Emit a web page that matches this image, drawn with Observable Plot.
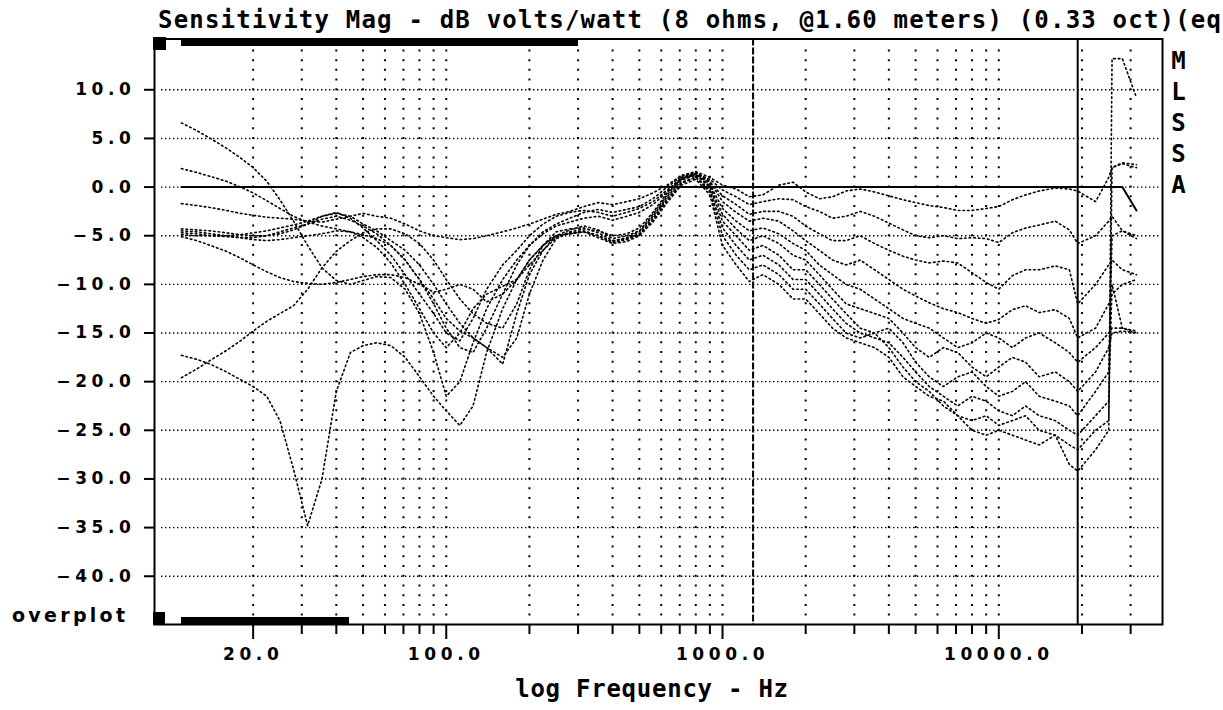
<!DOCTYPE html>
<html>
<head>
<meta charset="utf-8">
<script src="https://cdn.jsdelivr.net/npm/d3@7"></script>
<script src="https://cdn.jsdelivr.net/npm/@observablehq/plot@0.6"></script>
<style>
  html, body { margin: 0; padding: 0; background: #fff; overflow: hidden; }
  #wrap { position: relative; width: 1223px; height: 710px; overflow: hidden; background: #fff; }
  .mono { position: absolute; font-family: "DejaVu Sans Mono", monospace; font-weight: bold; color: #000; white-space: pre; line-height: normal; }
  #title { left: 158px; top: 6px; font-size: 24px; letter-spacing: 1.2px; }
  #xlabel { left: 652px; top: 675px; font-size: 24px; letter-spacing: 0.75px; transform: translateX(-50%); }
  #mlssa { left: 1171px; top: 46px; width: 15px; text-align: center; font-size: 24px; line-height: 31px; }
  #overplot { position: absolute; left: 12px; top: 604px; font-family: "DejaVu Sans", sans-serif; font-weight: bold; font-size: 19px; letter-spacing: 3.3px; color: #000; }
  .blk { position: absolute; background: #000; }
  #chart svg text { letter-spacing: 4.6px; }
</style>
</head>
<body>
<div id="wrap">
  <div id="chart"></div>
  <div id="title" class="mono">Sensitivity Mag - dB volts/watt (8 ohms, @1.60 meters) (0.33 oct)(eq</div>
  <div id="xlabel" class="mono">log Frequency - Hz</div>
  <div id="mlssa" class="mono">M<br>L<br>S<br>S<br>A</div>
  <div id="overplot">overplot</div>
  <div class="blk" style="left:153px;top:37px;width:13px;height:13px;"></div>
  <div class="blk" style="left:181px;top:37.5px;width:397px;height:8px;"></div>
  <div class="blk" style="left:153px;top:612px;width:12px;height:13px;"></div>
  <div class="blk" style="left:181px;top:617px;width:168px;height:8px;"></div>
</div>
<script>
// Frequencies (Hz), shared by all curves
const freq = [
  11, 12.5, 14, 16, 18, 20, 22.4, 25, 28, 31.5, 35.5, 40, 45, 50, 56, 63, 71, 80, 90, 100, 112, 125, 140, 160, 180, 200, 224,
  250, 280, 315, 355, 400, 450, 500, 560, 630, 710, 800, 900, 1000, 1120, 1250, 1400, 1600, 1800,
  2000, 2240, 2500, 2800, 3150, 3550, 4000, 4500, 5000, 5600, 6300, 7100, 8000, 9000, 10000, 11200, 12500, 14000, 16000, 18000,
  19300, 22400, 25000, 25700, 28000, 31500
];

// Off-axis curves (dB)
const curve1 = [
  -1.7,-1.9,-2.1,-2.4,-2.7,-2.9,-3.1,-3.2,-3.3,-3.5,-3.6,-3.3,-3.0,-2.7,-3.0,-3.2,-3.8,-4.5,-5.0,-5.2,-5.4,-5.3,-5.0,-4.6,-4.2,-3.8,-3.3,
  -2.8,-2.5,-2.0,-1.6,-1.8,-1.5,-1.2,-0.6,0.2,1.2,1.6,1.0,0.2,-0.2,-1.0,-0.8,0.2,0.5,
  -0.5,-1.2,-1.0,-0.4,-0.2,-0.5,-0.9,-1.3,-1.6,-1.9,-2.1,-2.4,-2.4,-2.2,-2.0,-1.3,-0.8,-0.4,-0.1,-0.2,
  -0.4,-1.5,1.0,2.0,2.4,2.0
];
const curve2 = [
  -4.3,-4.4,-4.5,-4.7,-4.9,-5.0,-5.0,-4.8,-4.4,-3.8,-3.0,-2.6,-3.2,-4.2,-5.5,-7.0,-9.0,-11.0,-13.0,-15.0,-15.8,-13.5,-10.5,-8.0,-6.5,-5.0,-3.8,
  -3.0,-2.6,-2.4,-2.6,-3.0,-2.6,-2.2,-1.5,-0.3,0.9,1.4,0.8,-0.3,-1.0,-1.8,-1.5,-1.2,-1.3,
  -2.0,-2.5,-3.2,-3.0,-2.5,-3.0,-3.7,-4.4,-5.0,-5.2,-5.0,-5.3,-5.2,-5.3,-5.7,-4.7,-4.2,-3.9,-3.5,-4.4,
  -5.8,-5.0,-3.5,-3.0,-4.5,-5.3
];
const curve3 = [
  6.6,5.8,5.0,4.0,3.0,2.0,0.6,-1.3,-3.5,-6.0,-8.3,-9.6,-10.0,-9.6,-9.2,-9.3,-10.5,-13.0,-17.0,-21.5,-20.0,-16.0,-12.5,-9.5,-7.5,-6.0,-4.8,
  -4.0,-3.6,-3.2,-3.0,-3.4,-3.0,-2.6,-1.8,-0.5,0.8,1.3,0.5,-0.9,-1.8,-2.8,-2.5,-2.5,-3.0,
  -4.0,-4.8,-5.5,-5.5,-5.0,-5.8,-6.5,-7.1,-7.5,-7.8,-7.6,-7.8,-8.8,-9.8,-10.5,-9.1,-8.5,-8.5,-8.1,-8.5,
  -12.0,-10.0,-8.0,-7.5,-8.5,-9.0
];
const curve4 = [
  1.9,1.5,1.1,0.6,0.0,-0.6,-1.4,-2.2,-3.0,-3.6,-4.0,-4.3,-4.6,-4.9,-5.3,-6.0,-7.5,-9.5,-12.0,-14.5,-16.5,-17.0,-14.5,-11.0,-8.0,-6.0,-4.6,
  -3.8,-3.2,-2.6,-2.3,-2.6,-2.3,-2.0,-1.2,0.0,1.1,1.5,0.6,-1.5,-2.6,-3.5,-3.2,-3.5,-4.5,
  -5.5,-6.5,-7.5,-8.0,-7.5,-8.5,-9.5,-10.5,-11.2,-11.9,-12.5,-12.9,-13.5,-14.0,-13.6,-12.6,-12.2,-12.9,-12.6,-13.5,
  -15.5,-14.5,-12.0,-11.0,-10.0,-9.5
];
const curve5 = [
  -4.5,-4.6,-4.8,-5.0,-5.2,-5.4,-5.5,-5.4,-5.2,-5.0,-4.8,-4.5,-4.6,-5.2,-6.2,-7.8,-10.0,-12.5,-15.0,-16.5,-15.0,-12.5,-11.0,-10.2,-9.5,-8.0,-6.5,
  -5.2,-4.6,-4.3,-4.5,-5.0,-4.8,-4.2,-2.6,-0.6,1.0,1.4,0.3,-2.2,-3.5,-4.5,-4.2,-4.8,-5.8,
  -6.5,-8.0,-9.0,-10.0,-10.5,-11.5,-12.5,-13.5,-14.0,-14.5,-15.5,-16.5,-16.0,-15.0,-15.5,-16.5,-15.5,-15.0,-16.0,-17.0,
  -18.0,-16.5,-15.0,-14.5,-14.5,-14.8
];
const curve6 = [
  -4.7,-4.8,-5.0,-5.1,-5.2,-5.2,-5.0,-4.6,-4.2,-3.8,-3.3,-3.0,-3.4,-4.0,-4.8,-6.0,-7.5,-9.5,-11.5,-13.5,-14.8,-15.5,-16.5,-18.2,-13.0,-9.0,-6.5,
  -5.0,-4.4,-4.0,-4.4,-5.3,-5.0,-4.5,-2.8,-0.8,0.9,1.3,0.1,-2.8,-4.3,-5.5,-5.0,-5.8,-7.0,
  -7.5,-9.0,-10.5,-12.0,-12.5,-13.0,-13.5,-15.0,-16.5,-17.5,-16.5,-17.0,-18.5,-19.5,-18.5,-17.5,-18.0,-19.5,-19.0,-20.0,
  -21.0,-19.0,-16.5,-15.0,-14.8,-15.0
];
const curve7 = [
  -5.1,-5.5,-6.0,-6.6,-7.3,-8.0,-8.7,-9.3,-9.7,-9.9,-10.0,-9.8,-9.5,-9.2,-9.0,-9.0,-9.3,-10.0,-10.8,-10.5,-10.0,-10.5,-11.8,-11.0,-9.5,-7.5,-6.0,
  -5.0,-4.8,-4.6,-5.0,-5.6,-5.2,-4.6,-3.0,-1.0,0.7,1.2,0.0,-3.5,-5.0,-6.5,-6.0,-7.0,-8.5,
  -8.5,-10.0,-11.5,-13.0,-14.5,-15.0,-14.5,-16.0,-18.0,-19.5,-20.5,-19.5,-19.0,-20.5,-21.5,-21.0,-20.0,-21.5,-22.0,-22.5,
  -23.5,-21.0,-19.0,-5.0,-4.5,-5.0
];
const curve8 = [
  -19.6,-18.7,-17.8,-16.8,-15.8,-14.8,-13.8,-13.0,-12.2,-10.5,-8.3,-6.6,-5.5,-4.7,-4.3,-4.3,-4.8,-5.8,-7.5,-9.5,-11.5,-13.0,-14.0,-14.5,-12.0,-8.5,-6.0,
  -4.6,-4.3,-4.2,-4.7,-5.5,-5.3,-4.8,-3.2,-1.2,0.5,1.0,-0.3,-4.2,-6.0,-7.5,-7.0,-8.0,-9.5,
  -9.5,-11.0,-12.5,-14.0,-15.0,-15.5,-16.0,-17.5,-19.0,-20.5,-21.5,-22.5,-21.5,-22.0,-23.0,-23.5,-22.5,-23.5,-24.0,-25.0,
  -25.5,-23.5,-22.0,-10.0,-14.5,-15.0
];
const curve9 = [
  -4.9,-5.0,-5.0,-5.0,-4.9,-4.7,-4.5,-4.2,-3.9,-3.5,-3.0,-2.7,-3.0,-3.8,-4.5,-5.5,-6.5,-8.0,-10.0,-12.0,-14.0,-15.5,-16.5,-17.5,-15.5,-11.0,-7.5,
  -5.3,-4.7,-4.5,-5.0,-5.7,-5.4,-4.9,-3.4,-1.4,0.4,1.0,-0.5,-5.0,-7.0,-8.5,-8.0,-9.0,-10.5,
  -10.5,-12.0,-13.5,-15.0,-15.5,-15.0,-16.5,-18.5,-20.0,-21.0,-22.5,-23.5,-24.0,-23.5,-24.5,-24.0,-23.5,-25.0,-25.5,-26.5,
  -27.0,-25.0,-24.0,2.0,2.5,2.3
];
const curve10 = [
  -17.3,-17.7,-18.2,-19.0,-19.8,-20.5,-21.5,-24.0,-29.0,-34.8,-30.0,-21.0,-17.0,-16.3,-16.0,-16.3,-17.5,-19.5,-21.5,-23.0,-24.5,-22.5,-17.0,-12.5,-9.5,-7.5,-6.0,
  -5.0,-4.8,-4.6,-5.2,-5.8,-5.6,-5.0,-3.6,-1.6,0.2,0.8,-0.8,-6.0,-8.0,-9.7,-9.0,-10.0,-11.5,
  -11.5,-13.0,-14.5,-15.5,-16.0,-16.5,-17.5,-19.5,-20.5,-21.5,-22.0,-23.5,-25.0,-25.5,-25.0,-25.5,-26.0,-26.5,-25.5,-28.5,
  -29.2,-27.0,-25.0,13.2,13.2,9.2
];

// Reference (on-axis normalised) curve
const refFreq = [11, 28000, 31500];
const refDb = [0, 0, -2.4];

// Cursor markers (Hz)
const cursorDashed = [1290];
const cursorSolid = [19300];

// Ticks
const dbTicks = [10, 5, 0, -5, -10, -15, -20, -25, -30, -35, -40];
const majorTicks = [20, 100, 1000, 10000];
const minorTicks = [30, 40, 50, 60, 70, 80, 90, 200, 300, 400, 500, 600, 700, 800, 900,
                    2000, 3000, 4000, 5000, 6000, 7000, 8000, 9000, 20000, 30000];
const gridFreqs = [20, 30, 40, 50, 60, 70, 80, 90, 100, 200, 300, 400, 500, 600, 700, 800, 900,
                   1000, 2000, 3000, 4000, 5000, 6000, 7000, 8000, 9000, 10000, 20000, 30000];

const series = [curve1, curve2, curve3, curve4, curve5, curve6, curve7, curve8, curve9, curve10];
const rows = [];
series.forEach((vals, k) => vals.forEach((v, i) => rows.push({f: freq[i], db: v, s: "c" + (k + 1)})));
const refRows = refFreq.map((f, i) => ({f, db: refDb[i]}));

const fmt = d => (d < 0 ? "\u2212" : "") + Math.abs(d).toFixed(1);

const chart = Plot.plot({
  width: 1223,
  height: 710,
  marginLeft: 154,
  marginRight: 61,
  marginTop: 38.5,
  marginBottom: 86,
  x: {type: "log", domain: [8.79, 39130]},
  y: {domain: [-44.96, 15.22]},
  style: {fontFamily: "'DejaVu Sans', sans-serif", fontWeight: "bold", fontSize: "17px", color: "#000", background: "#fff", overflow: "visible"},
  marks: [
    Plot.ruleY(dbTicks, {stroke: "#000", strokeWidth: 1.4, strokeDasharray: "1.4 2.6", insetLeft: 7, insetRight: 3}),
    Plot.ruleX(gridFreqs, {stroke: "#000", strokeWidth: 2, strokeDasharray: "2 7.728", insetTop: 10.9, insetBottom: 8.4}),
    Plot.ruleX(cursorDashed, {stroke: "#000", strokeWidth: 2, strokeDasharray: "7 2"}),
    Plot.ruleX(cursorSolid, {stroke: "#000", strokeWidth: 2}),
    Plot.line(rows, {x: "f", y: "db", z: "s", stroke: "#000", strokeWidth: 1.6, strokeDasharray: "1.6 3", clip: true}),
    Plot.line(refRows, {x: "f", y: "db", stroke: "#000", strokeWidth: 2, clip: true}),
    Plot.axisY({ticks: dbTicks, tickSize: 10, tickPadding: 9, tickFormat: fmt, label: null, strokeWidth: 2}),
    Plot.axisX({ticks: minorTicks, tickSize: 10, tickFormat: () => "", label: null, strokeWidth: 2}),
    Plot.axisX({ticks: majorTicks, tickSize: 15, tickPadding: 8, tickFormat: d => d.toFixed(1), label: null, strokeWidth: 2}),
    Plot.frame({stroke: "#000", strokeWidth: 2})
  ]
});
document.getElementById("chart").appendChild(chart);
</script>
</body>
</html>
